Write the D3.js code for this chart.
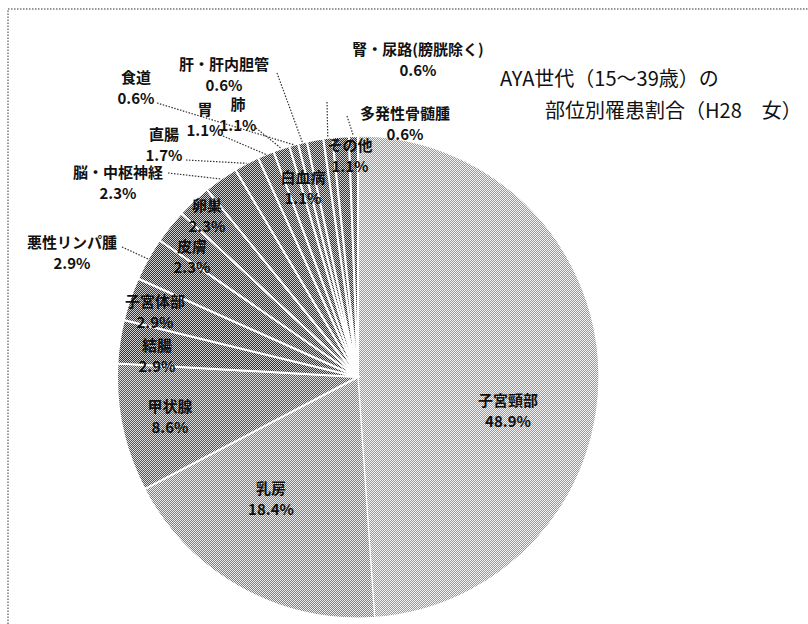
<!DOCTYPE html>
<meta charset="utf-8">
<style>
body { margin: 0; background: #fff; }
.lbl { font-family: "Noto Sans CJK JP", sans-serif; font-weight: bold; font-size: 15px; fill: #111; }
.title { font-family: "Noto Sans CJK JP", sans-serif; font-size: 20px; fill: #111; }
.leader { stroke: #333; stroke-width: 1.2px; stroke-dasharray: 1.5 1.5; fill: none; }
.frame { stroke: #777; stroke-width: 1.5px; stroke-dasharray: 1.5 1.5; fill: none; }
</style>
<body>
<script src="https://d3js.org/d3.v7.min.js"></script>
<script>

// slices, clockwise from 12 o'clock
var sites = ["子宮頸部", "乳房", "甲状腺", "結腸", "子宮体部", "悪性リンパ腫", "皮膚", "卵巣",
             "脳・中枢神経", "直腸", "胃", "肺", "食道", "肝・肝内胆管", "白血病",
             "腎・尿路(膀胱除く)", "その他", "多発性骨髄腫"];
var shares = [48.9, 18.4, 8.6, 2.9, 2.9, 2.9, 2.3, 2.3,
              2.3, 1.7, 1.1, 1.1, 0.6, 0.6, 1.1,
              0.6, 1.1, 0.6];
var titleLines = ["AYA世代（15～39歳）の", "部位別罹患割合（H28　女）"];

// label placement: [centre x, first baseline y, leader start x, leader start y]
var labelAt = {
  "子宮頸部": [508, 406], "乳房": [271, 494], "甲状腺": [170, 412], "結腸": [157, 351],
  "子宮体部": [155, 307], "悪性リンパ腫": [72, 248, 122, 247], "皮膚": [192, 252], "卵巣": [207, 211],
  "脳・中枢神経": [118, 178, 168, 173], "直腸": [164, 140, 186, 160], "胃": [205, 115, 223, 136],
  "肺": [238, 110, 256, 128], "食道": [136, 83, 157, 103], "肝・肝内胆管": [224, 70, 277, 73],
  "白血病": [303, 183], "腎・尿路(膀胱除く)": [418, 55, 327, 102], "その他": [350, 151],
  "多発性骨髄腫": [405, 119, 347, 116]
};

var width = 808, height = 624,
    cx = 358, cy = 377, r = 241;

var svg = d3.select("body").append("svg")
    .attr("width", width)
    .attr("height", height);

// scanned halftone look
var defs = svg.append("defs");
function halftone(id, light, dark) {
  var p = defs.append("pattern")
      .attr("id", id)
      .attr("width", 2).attr("height", 2)
      .attr("patternUnits", "userSpaceOnUse");
  p.append("rect").attr("width", 2).attr("height", 2).attr("fill", light);
  p.append("rect").attr("width", 1).attr("height", 1).attr("fill", dark);
  p.append("rect").attr("x", 1).attr("y", 1).attr("width", 1).attr("height", 1).attr("fill", dark);
}
halftone("h0", "#f4f4f4", "#999");
halftone("h1", "#eeeeee", "#808080");
halftone("h2", "#e0e0e0", "#555");
halftone("h3", "#d0d0d0", "#333");

var fillOf = function(i) { return i === 0 ? "url(#h0)" : i === 1 ? "url(#h1)" : i === 2 ? "url(#h2)" : "url(#h3)"; };

svg.append("path").attr("class", "frame").attr("d", "M8,624 L8,9 L808,9");

var pie = d3.pie().sort(null).value(function(d) { return d; });
var arcs = pie(shares);
var arc = d3.arc().innerRadius(0).outerRadius(r);
var rim = d3.arc().innerRadius(r).outerRadius(r);

var g = svg.append("g").attr("transform", "translate(" + cx + "," + cy + ")");

g.selectAll(".slice")
  .data(arcs)
  .enter()
  .append("path")
  .attr("class", "slice")
  .attr("d", arc)
  .attr("fill", function(d, i) { return fillOf(i); })
  .attr("stroke", "#fff")
  .attr("stroke-width", function(d, i) { return i < 2 ? 1.2 : 2; });

// leader lines for outside labels
arcs.forEach(function(d, i) {
  var p = labelAt[sites[i]];
  if (p.length < 4) return;
  var e = rim.centroid(d);
  svg.append("line")
    .attr("class", "leader")
    .attr("x1", p[2]).attr("y1", p[3])
    .attr("x2", cx + e[0]).attr("y2", cy + e[1]);
});

// labels
sites.forEach(function(name, i) {
  var p = labelAt[name];
  var t = svg.append("text").attr("class", "lbl").attr("text-anchor", "middle");
  t.append("tspan").attr("x", p[0]).attr("y", p[1]).text(name);
  t.append("tspan").attr("x", p[0]).attr("y", p[1] + 21).text(shares[i].toFixed(1) + "%");
});

svg.append("text").attr("class", "title").attr("x", 500).attr("y", 86).text(titleLines[0]);
svg.append("text").attr("class", "title").attr("x", 545).attr("y", 118).text(titleLines[1]);

</script>
</body>
